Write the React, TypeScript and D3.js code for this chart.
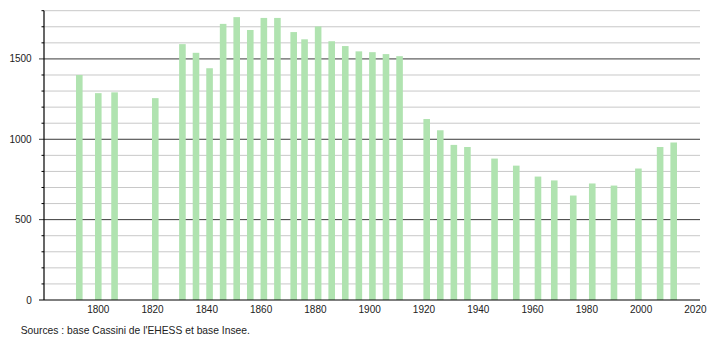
import React from "react";
import * as d3 from "d3";

const years = [1793, 1800, 1806, 1821, 1831, 1836, 1841, 1846, 1851, 1856, 1861, 1866, 1872, 1876, 1881, 1886, 1891, 1896, 1901, 1906, 1911, 1921, 1926, 1931, 1936, 1946, 1954, 1962, 1968, 1975, 1982, 1990, 1999, 2007, 2012];
const population = [1400, 1287, 1292, 1256, 1592, 1538, 1442, 1718, 1760, 1680, 1755, 1755, 1667, 1622, 1702, 1610, 1580, 1547, 1542, 1530, 1517, 1126, 1056, 965, 952, 880, 836, 768, 744, 650, 725, 712, 818, 952, 980];
const xTicks = [1800, 1820, 1840, 1860, 1880, 1900, 1920, 1940, 1960, 1980, 2000, 2020];
const yMajor = [0, 500, 1000, 1500];
const yMinor = d3.range(100, 1900, 100).filter((v) => v % 500 !== 0);
const sourceText = "Sources : base Cassini de l'EHESS et base Insee.";

export default function App() {
  const W = 710, H = 340;
  const x = d3.scaleLinear().domain([1780, 2020]).range([44, 695.4]);
  const y = d3.scaleLinear().domain([0, 1800]).range([300, 10.7]);
  const axisX = 44;
  const rightX = 700;
  const barW = 6.6;
  const font = "'Liberation Sans', Arial, sans-serif";
  return (
    <svg width={W} height={H} style={{ position: "absolute", left: 0, top: 0, background: "#fff" }} fontFamily={font}>
      {yMinor.map((v) => (
        <g key={"mi" + v}>
          <line x1={axisX} x2={rightX} y1={y(v)} y2={y(v)} stroke="#c8c8c8" strokeWidth={1} />
          <line x1={axisX - 2.5} x2={axisX} y1={y(v)} y2={y(v)} stroke="#000" strokeWidth={1} />
        </g>
      ))}
      {yMajor.filter((v) => v > 0).map((v) => (
        <line key={"ma" + v} x1={axisX - 5} x2={rightX} y1={y(v)} y2={y(v)} stroke="#3a3a3a" strokeWidth={1} />
      ))}
      {years.map((yr, i) => (
        <rect key={yr} x={x(yr) - barW / 2} y={y(population[i])} width={barW} height={y(0) - y(population[i])} fill="#b0e3b0" />
      ))}
      <line x1={axisX} x2={axisX} y1={y(1800)} y2={y(0)} stroke="#000" strokeWidth={1.2} />
      <line x1={axisX - 5} x2={rightX} y1={y(0)} y2={y(0)} stroke="#000" strokeWidth={1.2} />
      {yMajor.map((v) => (
        <text key={"yl" + v} x={31.7} y={y(v)} dy="0.35em" textAnchor="end" fontSize={10} fill="#222">{v}</text>
      ))}
      {xTicks.map((t) => (
        <text key={"xl" + t} x={x(t)} y={313} textAnchor="middle" fontSize={10} fill="#222">{t}</text>
      ))}
      <text x={20.7} y={334} fontSize={10.3} fill="#222">{sourceText}</text>
    </svg>
  );
}
